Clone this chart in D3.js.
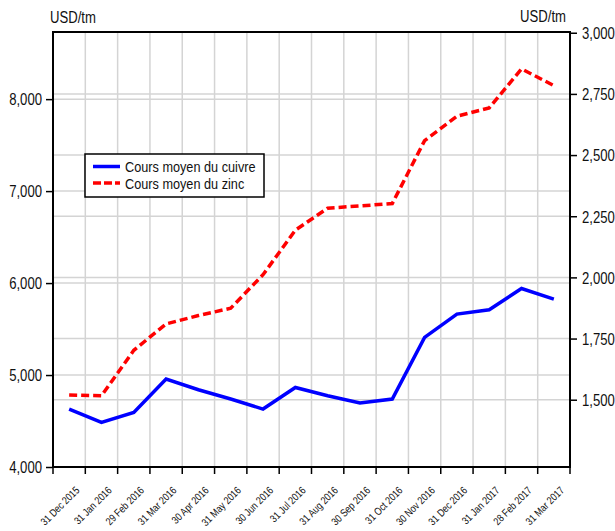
<!DOCTYPE html>
<html><head><meta charset="utf-8">
<script src="https://cdn.jsdelivr.net/npm/d3@7"></script>
<style>
html,body{margin:0;padding:0;background:#fff;}
svg text{font-family:"Liberation Sans",Arial,sans-serif;fill:#111;}
</style></head>
<body>
<svg id="chart" width="615" height="531"></svg>
<script>
const months = ["31 Dec 2015","31 Jan 2016","29 Feb 2016","31 Mar 2016","30 Apr 2016","31 May 2016","30 Jun 2016","31 Jul 2016","31 Aug 2016","30 Sep 2016","31 Oct 2016","30 Nov 2016","31 Dec 2016","31 Jan 2017","28 Feb 2017","31 Mar 2017"];
const cuivre = [4630,4485,4593,4957,4840,4739,4630,4865,4775,4696,4739,5409,5663,5710,5941,5826];
const zinc = [1519,1516,1702,1810,1844,1874,2011,2193,2283,2292,2302,2559,2659,2693,2852,2784];
const leftTicks = [4000,5000,6000,7000,8000];
const rightTicks = [1500,1750,2000,2250,2500,2750,3000];
const seriesNames = ["Cours moyen du cuivre","Cours moyen du zinc"];
const unitLabel = "USD/tm";

const K = 0.82; // horizontal condensing to imitate a narrow face
const svg = d3.select("#chart");
const L = 53, R = 570, T = 32, B = 467;

const x = d3.scaleBand().domain(months).range([L, R]).paddingInner(0).paddingOuter(0);
const yL = d3.scaleLinear().domain([4000, 8730]).range([B, T]);
const yR = d3.scaleLinear().domain([1225, 3003]).range([B, T]);

function ctext(g, px, py, str, size, anchor) {
  return g.append("text")
    .attr("transform", `translate(${px},${py}) scale(${K},1)`)
    .attr("font-size", size).attr("text-anchor", anchor || "start").text(str);
}

const grid = svg.append("g").attr("stroke", "#d4d4d4").attr("stroke-width", 1.5);
months.slice(1).forEach(m => {
  grid.append("line").attr("x1", x(m)).attr("x2", x(m)).attr("y1", T).attr("y2", B);
});
leftTicks.filter(v => v > 4000).forEach(v => {
  grid.append("line").attr("x1", L).attr("x2", R).attr("y1", yL(v)).attr("y2", yL(v));
});
rightTicks.filter(v => v < 3000).forEach(v => {
  grid.append("line").attr("x1", L).attr("x2", R).attr("y1", yR(v)).attr("y2", yR(v));
});

const fmt = d3.format(",");
const axL = svg.append("g").attr("transform", `translate(${L},0)`)
  .call(d3.axisLeft(yL).tickValues(leftTicks).tickFormat(fmt).tickSize(7).tickPadding(3));
const axR = svg.append("g").attr("transform", `translate(${R},0)`)
  .call(d3.axisRight(yR).tickValues(rightTicks).tickFormat(fmt).tickSize(7).tickPadding(4));
[axL, axR].forEach((a, k) => {
  a.select(".domain").remove();
  a.selectAll(".tick line").attr("stroke", "#000").attr("stroke-width", 1.5);
  a.selectAll(".tick text").attr("font-size", 16).attr("fill", "#111")
    .attr("font-family", '"Liberation Sans",Arial,sans-serif')
    .attr("x", null).attr("dy", "0.36em")
    .attr("transform", `translate(${k === 0 ? -11 : 12},0) scale(${K},1)`);
});

const bounds = months.map(m => x(m)).concat([R]);
svg.append("g").selectAll("line").data(bounds).join("line")
  .attr("x1", d => d).attr("x2", d => d).attr("y1", B).attr("y2", B + 7)
  .attr("stroke", "#000").attr("stroke-width", 1.5);

svg.append("g").selectAll("text").data(months).join("text")
  .attr("transform", d => `translate(${x(d) + x.bandwidth()/2 + 11},${B + 24}) rotate(-45) scale(${K},1)`)
  .attr("text-anchor", "end")
  .attr("font-size", 10.7)
  .text(d => d);

svg.append("rect").attr("x", L).attr("y", T).attr("width", R - L).attr("height", B - T)
  .attr("fill", "none").attr("stroke", "#000").attr("stroke-width", 2);

const cx = (d, i) => x(months[i]) + x.bandwidth() / 2;
svg.append("path").datum(cuivre)
  .attr("d", d3.line().x(cx).y(d => yL(d)))
  .attr("fill", "none").attr("stroke", "#0000ff").attr("stroke-width", 3.5);
svg.append("path").datum(zinc)
  .attr("d", d3.line().x(cx).y(d => yR(d)))
  .attr("fill", "none").attr("stroke", "#ff0000").attr("stroke-width", 3.5)
  .attr("stroke-dasharray", "8,4");

ctext(svg, 50, 23, unitLabel, 16, "start");
ctext(svg, 566, 22, unitLabel, 16, "end");

const lg = svg.append("g");
lg.append("rect").attr("x", 85).attr("y", 154).attr("width", 179).attr("height", 43)
  .attr("fill", "#fff").attr("stroke", "#000").attr("stroke-width", 1.5);
const legendColors = ["#0000ff", "#ff0000"];
const legendDash = [null, "8,3"];
seriesNames.forEach((name, i) => {
  const yy = 166.5 + i * 16.5;
  lg.append("line").attr("x1", 93).attr("x2", 120).attr("y1", yy).attr("y2", yy)
    .attr("stroke", legendColors[i]).attr("stroke-width", 3.5)
    .attr("stroke-dasharray", legendDash[i]);
  ctext(lg, 125, yy + 5.5, name, 15.5, "start");
});
</script>
</body></html>
